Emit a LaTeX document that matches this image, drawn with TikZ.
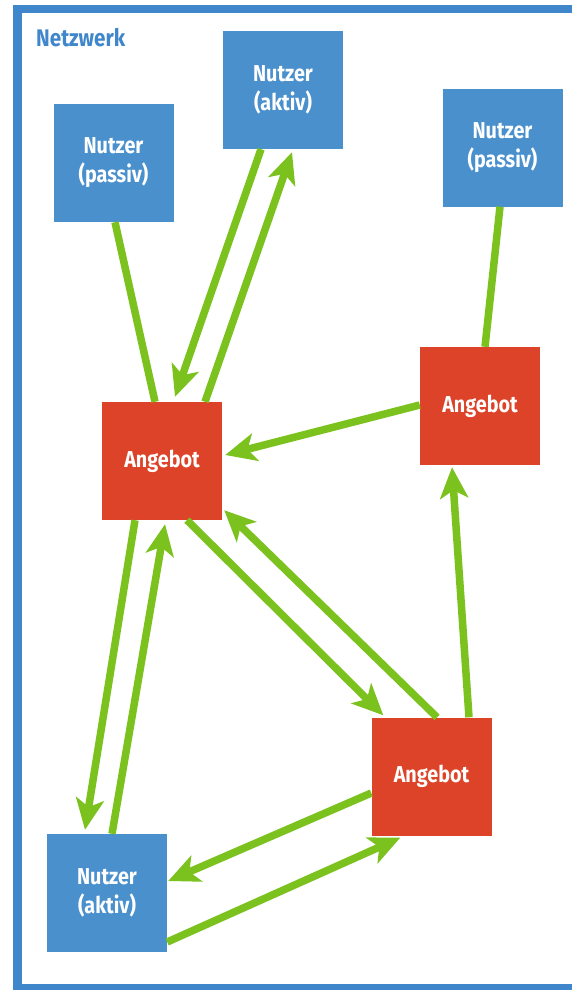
\documentclass[tikz,border=0pt]{standalone}
\usepackage{fontspec}
\newfontfamily\lblfont[FakeStretch=0.86]{Fira Sans}
\usetikzlibrary{arrows.meta}
\definecolor{nblue}{HTML}{4A90CD}
\definecolor{fblue}{HTML}{3F86CB}
\definecolor{ared}{HTML}{DD4328}
\definecolor{lgreen}{HTML}{7BC21F}
\tikzset{
  box/.style={minimum width=120pt,minimum height=118pt,inner sep=0pt,align=center,
    text=white,font=\lblfont\bfseries\fontsize{23}{29}\selectfont},
  nutzer/.style={box,fill=nblue},
  angebot/.style={box,fill=ared},
  link/.style={draw=lgreen,line width=7.5pt},
  arr/.style={link,-{Stealth[length=31pt,width=28pt,inset=8pt]}}
}
\begin{document}
\begin{tikzpicture}[x=1pt,y=-1pt]
\useasboundingbox (0,0) rectangle (572,990);
\fill[white] (0,0) rectangle (572,990);
\draw[fblue,line width=8.5pt] (17.5,9) rectangle (620,988);
\node[anchor=base west,text=fblue,inner sep=0pt,font=\lblfont\bfseries\fontsize{24}{28}\selectfont] (title) at (36,47) {Netzwerk};

\node[nutzer] (up1) at (113.5,163) {Nutzer\\(passiv)};
\node[nutzer] (ua1) at (283,90) {Nutzer\\(aktiv)};
\node[nutzer] (up2) at (502.5,147.5) {Nutzer\\(passiv)};
\node[angebot] (a1) at (162,461) {Angebot};
\node[angebot] (a2) at (480,406) {Angebot};
\node[angebot] (a3) at (431.5,776.5) {Angebot};
\node[nutzer] (ua2) at (107,893) {Nutzer\\(aktiv)};

\draw[link] ([xshift=1.5pt]up1.south) -- ([xshift=-7pt]a1.north);
\draw[arr] ([xshift=-22pt]ua1.south) -- ([xshift=13pt,yshift=5pt]a1.north);
\draw[arr] ([xshift=43pt]a1.north) -- ([xshift=9pt,yshift=-3pt]ua1.south);
\draw[link] ([xshift=-2.5pt]up2.south) -- ([xshift=5pt]a2.north);
\draw[arr] ([yshift=1pt]a2.west) -- ([xshift=3pt,yshift=6pt]a1.east);
\draw[arr] ([xshift=-27pt]a1.south) -- ([xshift=-22pt,yshift=4pt]ua2.north);
\draw[arr] ([xshift=5pt]ua2.north) -- ([xshift=3pt,yshift=-4pt]a1.south);
\draw[arr] ([xshift=25pt]a1.south) -- ([xshift=12pt,yshift=2pt]a3.north west);
\draw[arr] ([xshift=5.5pt]a3.north) -- ([xshift=2pt,yshift=10pt]a1.south east);
\draw[arr] ([xshift=37.5pt]a3.north) -- ([xshift=-28pt,yshift=-2pt]a2.south);
\draw[arr] ([yshift=-16.5pt]a3.west) -- ([xshift=1pt,yshift=12pt]ua2.east);
\draw[arr] ([yshift=-49pt]ua2.east) -- ([xshift=29pt,yshift=-2pt]a3.south west);
\end{tikzpicture}
\end{document}
